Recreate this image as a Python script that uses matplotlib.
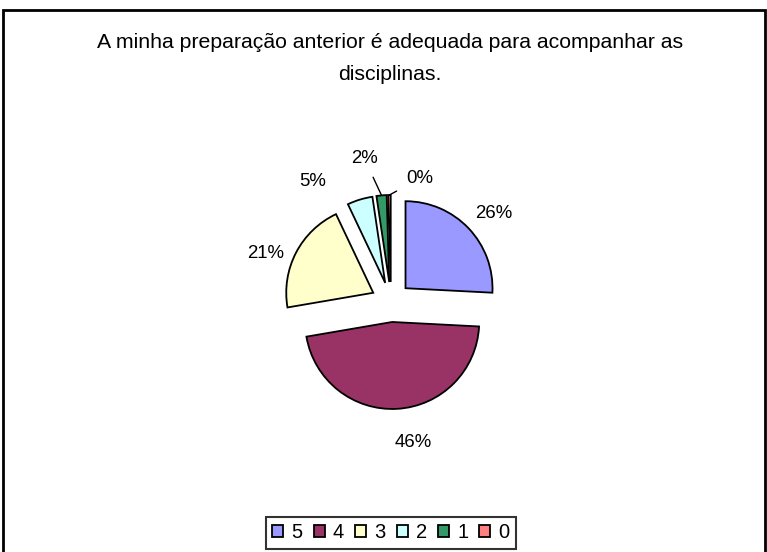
import numpy as np
import matplotlib
matplotlib.use("Agg")
import matplotlib.pyplot as plt
from matplotlib.patches import Rectangle

plt.rcParams['font.family'] = ['Liberation Sans', 'DejaVu Sans']

# Dados: respostas por nível (5 = concordo totalmente ... 0)
categorias = ['5', '4', '3', '2', '1', '0']
respostas = [55, 99, 44, 10, 4, 1]
cores = ['#9999FF', '#993366', '#FFFFCC', '#CCFFFF', '#339966', '#FF8080']

titulo_l1 = 'A minha preparação anterior é adequada para acompanhar as'
titulo_l2 = 'disciplinas.'

# posição dos rótulos: (raio, desvio angular em graus) relativo ao centro da fatia
rotulo_ajuste = [(1.33, -3), (1.4, 6.4), (1.32, 7.3), (1.43, 18.8), (1.45, 6.3), (1.24, -16.7)]
com_linha = [False, False, False, False, True, True]

W, H = 767, 552
fig = plt.figure(figsize=(W / 100, H / 100), dpi=100)
fig.patch.set_facecolor('white')

# eixo ocupando a figura toda, 1 unidade = 87 px, centro da pizza em (391, 302) px
cx, cy, rpx = 391, 302, 87
ax = fig.add_axes([0, 0, 1, 1])

wedges, _ = ax.pie(respostas, colors=cores, startangle=90, counterclock=False,
                   explode=[0.23] * len(respostas), radius=1,
                   wedgeprops=dict(edgecolor='black', linewidth=1.3))

# o pie() muda os limites, então fixa depois
ax.set_aspect('auto')
ax.set_xlim(-cx / rpx, (W - cx) / rpx)
ax.set_ylim(-(H - cy) / rpx, cy / rpx)
ax.axis('off')

total = sum(respostas)
for w, v, (r, d), linha in zip(wedges, respostas, rotulo_ajuste, com_linha):
    mid = np.deg2rad((w.theta1 + w.theta2) / 2)
    ang = mid + np.deg2rad(d)
    wx, wy = w.center
    tx, ty = wx + r * np.cos(ang), wy + r * np.sin(ang)
    txt = f'{round(100 * v / total):.0f}%'
    if linha:
        px, py = wx + np.cos(mid), wy + np.sin(mid)
        ax.annotate(txt, xy=(px, py), xytext=(tx, ty), ha='center', va='center',
                    fontsize=13.4,
                    arrowprops=dict(arrowstyle='-', color='black', lw=1,
                                    shrinkA=6, shrinkB=0))
    else:
        ax.text(tx, ty, txt, ha='center', va='center', fontsize=13.4)

fig.text(390 / W, 1 - 42 / H, titulo_l1, ha='center', va='center', fontsize=15.3)
fig.text(390 / W, 1 - 75 / H, titulo_l2, ha='center', va='center', fontsize=15.3)

leg = fig.legend(wedges, categorias, loc='center', ncol=6,
                 bbox_to_anchor=(391 / W, 1 - 533 / H), frameon=True,
                 fancybox=False, edgecolor='black', fontsize=14.5,
                 handlelength=0.55, handleheight=0.55, handletextpad=0.4,
                 columnspacing=0.55, borderpad=0.3, borderaxespad=0)
leg.get_frame().set_linewidth(1.5)

# moldura do gráfico
fig.patches.append(Rectangle((3 / W, -0.02), (765 - 3) / W, 1.02 - 10 / H,
                             transform=fig.transFigure, fill=False,
                             edgecolor='black', linewidth=2))

fig.savefig('out.png', dpi=100)
